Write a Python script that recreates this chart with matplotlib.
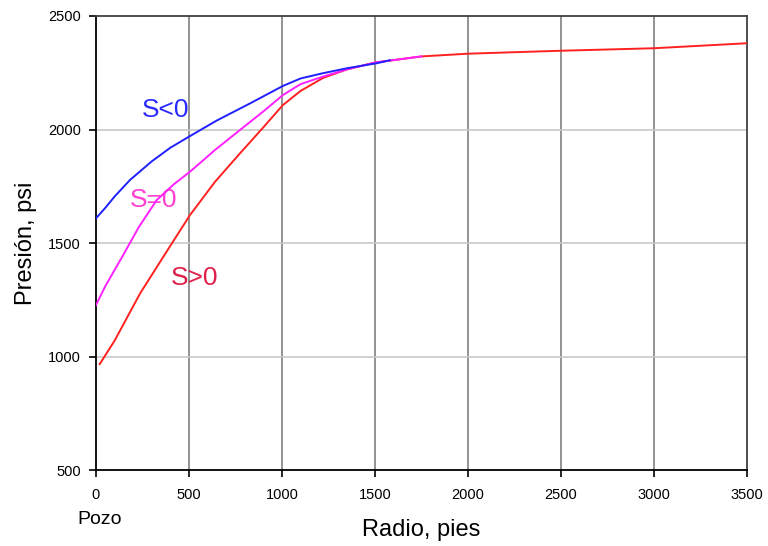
import matplotlib
matplotlib.use('Agg')
import matplotlib.pyplot as plt

plt.rcParams['font.family'] = ['Liberation Sans', 'DejaVu Sans']

# Datos
r_neg = [0, 50, 100, 183, 300, 400, 505, 650, 828, 1005, 1100, 1220, 1350, 1510, 1580]
p_neg = [1609, 1655, 1705, 1778, 1860, 1920, 1971, 2040, 2115, 2192, 2225, 2248, 2270, 2292, 2305]

r_cero = [0, 50, 146, 230, 326, 420, 505, 640, 774, 900, 1005, 1100, 1220, 1350, 1500, 1750]
p_cero = [1227, 1310, 1447, 1570, 1689, 1760, 1814, 1910, 1998, 2080, 2152, 2200, 2233, 2265, 2295, 2322]

r_pos = [20, 100, 237, 370, 505, 640, 774, 900, 1005, 1100, 1220, 1350, 1500, 1750, 2000, 2500, 3000, 3500]
p_pos = [967, 1070, 1278, 1450, 1623, 1770, 1895, 2010, 2108, 2170, 2227, 2265, 2295, 2322, 2334, 2347, 2358, 2380]

fig = plt.figure(figsize=(7.68, 5.46), dpi=100)
ax = fig.add_axes([0.125, 0.139, 0.8477, 0.8317])

# Rejilla
for x in range(500, 3500, 500):
    ax.axvline(x, color='#808080', lw=1.2, zorder=1)
for y in range(1000, 2500, 500):
    ax.axhline(y, color='#c8c8c8', lw=1.2, zorder=1)

ax.plot(r_pos, p_pos, color='#ff2020', lw=1.4, zorder=3)
ax.plot(r_cero, p_cero, color='#ff20ff', lw=1.4, zorder=4)
ax.plot(r_neg, p_neg, color='#2020ff', lw=1.4, zorder=5)

ax.text(376, 2086, 'S<0', color='#2a2aff', fontsize=19, ha='center', va='center')
ax.text(308, 1689, 'S=0', color='#ff40d0', fontsize=19, ha='center', va='center')
ax.text(532, 1345, 'S>0', color='#e0204a', fontsize=19, ha='center', va='center')

ax.set_xlim(0, 3500)
ax.set_ylim(500, 2500)
ax.set_xticks(range(0, 4000, 500))
ax.set_yticks(range(500, 3000, 500))
ax.tick_params(direction='out', length=5, width=1.2, labelsize=10.5)
ax.tick_params(axis='x', pad=8)
ax.tick_params(axis='y', pad=6)
for s in ax.spines.values():
    s.set_linewidth(1.3)
    s.set_color('black')
ax.spines['top'].set_color('#404040')
ax.spines['right'].set_color('#404040')

ax.set_ylabel('Presión, psi', fontsize=17, labelpad=8)
ax.set_xlabel('Radio, pies', fontsize=17, labelpad=12)
fig.text(100 / 768, 1 - 520 / 546, 'Pozo', fontsize=14, ha='center', va='center')

plt.savefig('out.png', dpi=100, facecolor='white')
